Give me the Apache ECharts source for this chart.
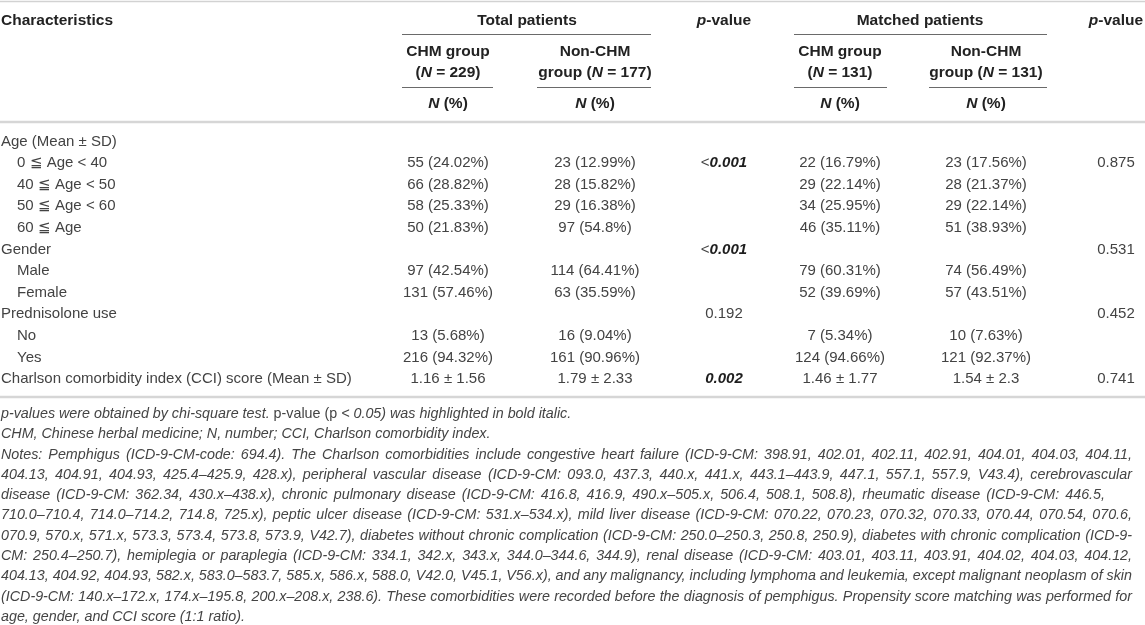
<!DOCTYPE html>
<html>
<head>
<meta charset="utf-8">
<script src="https://cdn.jsdelivr.net/npm/echarts@6/dist/echarts.min.js"></script>
<style>html,body{margin:0;padding:0;background:#fff}#c{width:1145px;height:625px}</style>
</head>
<body>
<div id="c"></div>
<script>
// ---------------- DATA ----------------
const headerTitle = "Characteristics";
const groupTitles = ["Total patients", "Matched patients"];
const pHeader = "p-value";
const colHeaders = [
  ["CHM group", "(N = 229)"],
  ["Non-CHM", "group (N = 177)"],
  ["CHM group", "(N = 131)"],
  ["Non-CHM", "group (N = 131)"]
];
const unitHeader = "N (%)";

const rowLabels = [
  "Age (Mean ± SD)", "0 ≦ Age < 40", "40 ≦ Age < 50", "50 ≦ Age < 60", "60 ≦ Age",
  "Gender", "Male", "Female",
  "Prednisolone use", "No", "Yes",
  "Charlson comorbidity index (CCI) score (Mean ± SD)"
];
const rowIsSub = [false, true, true, true, true, false, true, true, false, true, true, false];

const totalCHM = ["", "55 (24.02%)", "66 (28.82%)", "58 (25.33%)", "50 (21.83%)", "", "97 (42.54%)", "131 (57.46%)", "", "13 (5.68%)", "216 (94.32%)", "1.16 ± 1.56"];
const totalNonCHM = ["", "23 (12.99%)", "28 (15.82%)", "29 (16.38%)", "97 (54.8%)", "", "114 (64.41%)", "63 (35.59%)", "", "16 (9.04%)", "161 (90.96%)", "1.79 ± 2.33"];
const pTotal = ["", "<0.001", "", "", "", "<0.001", "", "", "0.192", "", "", "0.002"];
const pTotalSignificant = [false, true, false, false, false, true, false, false, false, false, false, true];
const matchedCHM = ["", "22 (16.79%)", "29 (22.14%)", "34 (25.95%)", "46 (35.11%)", "", "79 (60.31%)", "52 (39.69%)", "", "7 (5.34%)", "124 (94.66%)", "1.46 ± 1.77"];
const matchedNonCHM = ["", "23 (17.56%)", "28 (21.37%)", "29 (22.14%)", "51 (38.93%)", "", "74 (56.49%)", "57 (43.51%)", "", "10 (7.63%)", "121 (92.37%)", "1.54 ± 2.3"];
const pMatched = ["", "0.875", "", "", "", "0.531", "", "", "0.452", "", "", "0.741"];

const noteLines = [
  "p-values were obtained by chi-square test. |p-value (p| < 0.05) was highlighted in bold italic.",
  "CHM, Chinese herbal medicine; N, number; CCI, Charlson comorbidity index.",
  "Notes: Pemphigus (ICD-9-CM-code: 694.4). The Charlson comorbidities include congestive heart failure (ICD-9-CM: 398.91, 402.01, 402.11, 402.91, 404.01, 404.03, 404.11,",
  "404.13, 404.91, 404.93, 425.4–425.9, 428.x), peripheral vascular disease (ICD-9-CM: 093.0, 437.3, 440.x, 441.x, 443.1–443.9, 447.1, 557.1, 557.9, V43.4), cerebrovascular",
  "disease (ICD-9-CM: 362.34, 430.x–438.x), chronic pulmonary disease (ICD-9-CM: 416.8, 416.9, 490.x–505.x, 506.4, 508.1, 508.8), rheumatic disease (ICD-9-CM: 446.5,",
  "710.0–710.4, 714.0–714.2, 714.8, 725.x), peptic ulcer disease (ICD-9-CM: 531.x–534.x), mild liver disease (ICD-9-CM: 070.22, 070.23, 070.32, 070.33, 070.44, 070.54, 070.6,",
  "070.9, 570.x, 571.x, 573.3, 573.4, 573.8, 573.9, V42.7), diabetes without chronic complication (ICD-9-CM: 250.0–250.3, 250.8, 250.9), diabetes with chronic complication (ICD-9-",
  "CM: 250.4–250.7), hemiplegia or paraplegia (ICD-9-CM: 334.1, 342.x, 343.x, 344.0–344.6, 344.9), renal disease (ICD-9-CM: 403.01, 403.11, 403.91, 404.02, 404.03, 404.12,",
  "404.13, 404.92, 404.93, 582.x, 583.0–583.7, 585.x, 586.x, 588.0, V42.0, V45.1, V56.x), and any malignancy, including lymphoma and leukemia, except malignant neoplasm of skin",
  "(ICD-9-CM: 140.x–172.x, 174.x–195.8, 200.x–208.x, 238.6). These comorbidities were recorded before the diagnosis of pemphigus. Propensity score matching was performed for",
  "age, gender, and CCI score (1:1 ratio)."
];

// ---------------- LAYOUT ----------------
const W = 1145, H = 625;
const FAM = "'Liberation Sans', Arial, Helvetica, sans-serif";
const BODY_SIZE = 15, HEAD_SIZE = 15.5, NOTE_SIZE = 14.3;
const BODY_COLOR = '#434343', HEAD_COLOR = '#222', NOTE_COLOR = '#444';
const labelX = 1, subIndent = 16;
const dataCols = [448, 595, 724, 840, 986, 1116];   // column centres
const groupCentres = [527, 920];
const headRowY = [21, 52, 73, 104];
const bodyTop = 141.5, bodyStep = 21.6;
const noteTop = 414, noteStep = 20.3;
const justifyEnd = [null, null, 1132, 1132, 1105, 1132, 1132, 1132, 1132, 1132, null];
const rules = [
  // [x1, x2, y, kind]
  [0, W, 1.5, 'top'],
  [402, 651, 34.5, 'sub'], [794, 1047, 34.5, 'sub'],
  [402, 493, 87.5, 'sub'], [537, 651, 87.5, 'sub'], [794, 887, 87.5, 'sub'], [929, 1047, 87.5, 'sub'],
  [0, W, 122, 'major'],
  [0, W, 397, 'major']
];
const ruleStyles = {
  top: { stroke: '#d2d2d2', lineWidth: 1.5 },
  sub: { stroke: '#6a6a6a', lineWidth: 1 },
  major: { stroke: '#d6d6d6', lineWidth: 2.5 }
};

function fontObj(size, weight, style, color) {
  return { fontSize: size, fontFamily: FAM, fontWeight: weight, fontStyle: style, fill: color };
}
const richHead = {
  b: fontObj(HEAD_SIZE, 'bold', 'normal', HEAD_COLOR),
  bi: fontObj(HEAD_SIZE, 'bold', 'italic', HEAD_COLOR)
};
const richBody = {
  r: fontObj(BODY_SIZE, 'normal', 'normal', BODY_COLOR),
  bi: fontObj(BODY_SIZE, 'bold', 'italic', '#1e1e1e')
};
const richNote = {
  i: fontObj(NOTE_SIZE, 'normal', 'italic', NOTE_COLOR),
  r: fontObj(NOTE_SIZE, 'normal', 'normal', NOTE_COLOR)
};

// ---------------- CELLS ----------------
const cells = [];
function add(x, y, text, align, rich, base) {
  cells.push({ x, y, text, align, rich, base });
}
const headBase = fontObj(HEAD_SIZE, 'bold', 'normal', HEAD_COLOR);
const bodyBase = fontObj(BODY_SIZE, 'normal', 'normal', BODY_COLOR);
const noteBase = fontObj(NOTE_SIZE, 'normal', 'italic', NOTE_COLOR);

function italN(s) { return s.replace(/N(?= =| \()/, '{bi|N}').replace(/^([^{]*)/, (m) => m ? '{b|' + m + '}' : m); }
function headRich(s) {
  // split into bold and bold-italic N tokens
  const parts = s.split(/(N(?= =| \())/);
  return parts.filter(p => p !== '').map(p => (p === 'N' ? '{bi|N}' : '{b|' + p + '}')).join('');
}

add(labelX, headRowY[0], '{b|' + headerTitle + '}', 'left', richHead, headBase);
groupTitles.forEach((g, i) => add(groupCentres[i], headRowY[0], '{b|' + g + '}', 'center', richHead, headBase));
[dataCols[2], dataCols[5]].forEach(x => add(x, headRowY[0], '{bi|p}{b|-value}', 'center', richHead, headBase));
const groupColIdx = [0, 1, 3, 4];
colHeaders.forEach((h, i) => {
  const x = dataCols[groupColIdx[i]];
  add(x, headRowY[1], headRich(h[0]), 'center', richHead, headBase);
  add(x, headRowY[2], headRich(h[1]), 'center', richHead, headBase);
  add(x, headRowY[3], headRich(unitHeader), 'center', richHead, headBase);
});

const bodyCols = [totalCHM, totalNonCHM, pTotal, matchedCHM, matchedNonCHM, pMatched];
rowLabels.forEach((lab, r) => {
  const y = bodyTop + r * bodyStep;
  add(labelX + (rowIsSub[r] ? subIndent : 0), y, '{r|' + lab + '}', 'left', richBody, bodyBase);
  bodyCols.forEach((col, c) => {
    const v = col[r];
    if (!v) return;
    let t;
    if (c === 2 && pTotalSignificant[r]) {
      t = v.startsWith('<') ? '{r|<}{bi|' + v.slice(1) + '}' : '{bi|' + v + '}';
    } else {
      t = '{r|' + v + '}';
    }
    add(dataCols[c], y, t, 'center', richBody, bodyBase);
  });
});

// notes
const measureCtx = document.createElement('canvas').getContext('2d');
function measure(s, f) {
  measureCtx.font = (f.fontStyle || 'normal') + ' ' + (f.fontWeight || 'normal') + ' ' + f.fontSize + 'px ' + f.fontFamily;
  return measureCtx.measureText(s).width;
}
noteLines.forEach((line, i) => {
  const y = noteTop + i * noteStep;
  if (line.indexOf('|') >= 0) {
    const segs = line.split('|');
    const t = segs.map((s, k) => '{' + (k % 2 ? 'r' : 'i') + '|' + s + '}').join('');
    add(labelX, y, t, 'left', richNote, noteBase);
  } else {
    cells.push({ x: labelX, y, words: line.split(' '), justifyTo: justifyEnd[i], base: noteBase });
  }
});

// ---------------- CHART ----------------
const chart = echarts.init(document.getElementById('c'), null, { renderer: 'canvas' });
const option = {
  animation: false,
  backgroundColor: '#fff',
  grid: { left: 0, right: 0, top: 0, bottom: 0, containLabel: false },
  xAxis: { type: 'value', min: 0, max: W, show: false },
  yAxis: { type: 'value', min: 0, max: H, inverse: true, show: false },
  series: [
    {
      type: 'custom',
      name: 'rules',
      silent: true,
      clip: false,
      data: rules.map(r => [r[0], r[2], r[1]]),
      renderItem: function (params, api) {
        const p1 = api.coord([api.value(0), api.value(1)]);
        const p2 = api.coord([api.value(2), api.value(1)]);
        const st = ruleStyles[rules[params.dataIndex][3]];
        return { type: 'line', shape: { x1: p1[0], y1: p1[1], x2: p2[0], y2: p2[1] }, style: { stroke: st.stroke, lineWidth: st.lineWidth } };
      }
    },
    {
      type: 'custom',
      name: 'cells',
      silent: true,
      clip: false,
      data: cells.map(c => [c.x, c.y]),
      renderItem: function (params, api) {
        const c = cells[params.dataIndex];
        const p = api.coord([api.value(0), api.value(1)]);
        if (c.words) {
          const widths = c.words.map(w => measure(w, c.base));
          const spaceW = measure(' ', c.base);
          const total = widths.reduce((a, b) => a + b, 0);
          let gap = spaceW;
          if (c.justifyTo != null) {
            const end = api.coord([c.justifyTo, api.value(1)])[0];
            const g = (end - p[0] - total) / (c.words.length - 1);
            if (g > spaceW * 0.6) gap = g;
          }
          let x = p[0];
          const children = c.words.map((w, k) => {
            const el = { type: 'text', x: x, y: p[1], style: Object.assign({ text: w, align: 'left', verticalAlign: 'middle' }, c.base) };
            x += widths[k] + gap;
            return el;
          });
          return { type: 'group', children: children };
        }
        return {
          type: 'text',
          x: p[0], y: p[1],
          style: Object.assign({ text: c.text, align: c.align, verticalAlign: 'middle', rich: c.rich }, c.base)
        };
      }
    }
  ]
};
chart.setOption(option);
</script>
</body>
</html>
